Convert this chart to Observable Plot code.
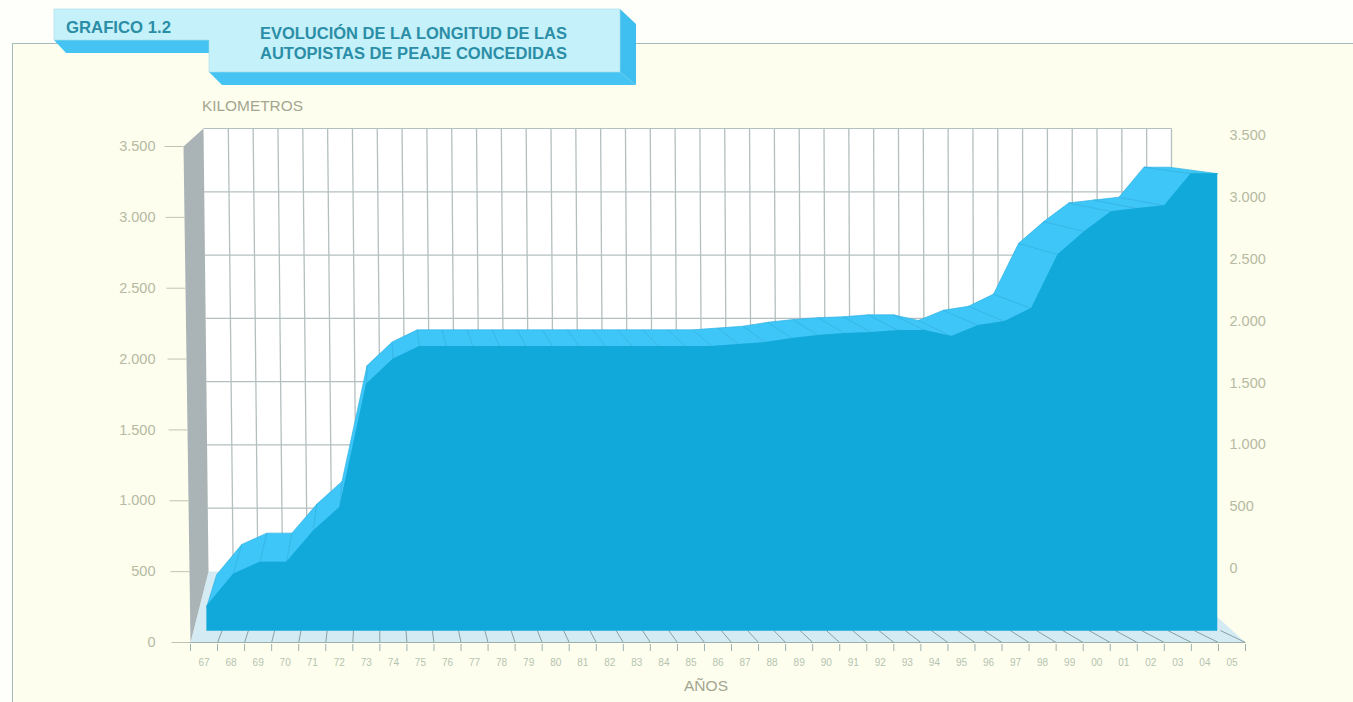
<!DOCTYPE html>
<html lang="es">
<head>
<meta charset="utf-8">
<script src="https://cdn.jsdelivr.net/npm/d3@7"></script>
<script src="https://cdn.jsdelivr.net/npm/@observablehq/plot@0.6"></script>
<style>
  html,body{margin:0;padding:0;background:#fefefa;}
  #page{position:relative;width:1353px;height:702px;overflow:hidden;font-family:"Liberation Sans",Arial,sans-serif;}
  #frame{position:absolute;left:12px;top:43px;right:-2px;bottom:-2px;background:#fefeee;border:1px solid #a3bcb9;}
  #chart{position:absolute;left:0;top:0;}
  #banner{position:absolute;left:0;top:0;}
</style>
</head>
<body>
<div id="page">
  <div id="frame"></div>
  <div id="chart"></div>
  <svg id="banner" width="1353" height="702">
    <polygon points="54,40 209,40 209,53 66,53" fill="#45c3f3"/>
    <polygon points="209,72 620,72 636,85 222,85" fill="#45c3f3"/>
    <polygon points="620,9 636,24 636,85 620,72" fill="#3fbef0"/>
    <polygon points="54,9 620,9 620,72 209,72 209,40 54,40" fill="#c5f1fb" stroke="#a6dcea" stroke-width="0.6"/>
    <g font-family="'Liberation Sans',Arial,sans-serif" font-weight="700" fill="#2b8ea6">
      <text x="66" y="33" font-size="16.5" textLength="105" lengthAdjust="spacingAndGlyphs">GRAFICO 1.2</text>
      <text x="260" y="39" font-size="16" textLength="307" lengthAdjust="spacingAndGlyphs">EVOLUCIÓN DE LA LONGITUD DE LAS</text>
      <text x="260" y="59" font-size="16" textLength="307" lengthAdjust="spacingAndGlyphs">AUTOPISTAS DE PEAJE CONCEDIDAS</text>
    </g>
    <g font-family="'Liberation Sans',Arial,sans-serif" font-size="14.5" fill="#a3a590">
      <text x="202" y="111" textLength="101" lengthAdjust="spacingAndGlyphs">KILOMETROS</text>
      <text x="684" y="691" textLength="44" lengthAdjust="spacingAndGlyphs">AÑOS</text>
    </g>
  </svg>
</div>
<script>
// --- data ---
const years = d3.range(1967, 2006);
const yearLabels = ["67","68","69","70","71","72","73","74","75","76","77","78","79","80","81","82","83","84","85","86","87","88","89","90","91","92","93","94","95","96","97","98","99","00","01","02","03","04","05"];
const km = [179,410,496,496,719,891,1776,1956,2049,2049,2049,2049,2049,2049,2049,2049,2049,2049,2049,2049,2063,2077,2107,2128,2142,2149,2164,2164,2121,2199,2229,2322,2710,2876,3019,3041,3062,3292,3292];
const kmTicks = [0,500,1000,1500,2000,2500,3000,3500];
const gridKm = [500,1000,1500,2000,2500,3000,3500];

// --- scales of the front edge of the floor ---
const xDomain = [1967, 2006], xRange = [190, 1245];
const yDomain = [0, 3500], yRange = [642, 146];
const xS = d3.scaleLinear(xDomain, xRange), yS = d3.scaleLinear(yDomain, yRange);
const fmt = d3.formatLocale({decimal:",",thousands:".",grouping:[3],currency:["","€"]}).format(",d");

// perspective: every depth step moves a point toward a vanishing point
const vp = {x: xS.invert(376), y: yS.invert(60)};
const toward = (p, cx, cy = cx) => ({x: p.x + cx*(vp.x-p.x), y: p.y + cy*(vp.y-p.y)});
const faceDepthX = 0.0166, faceDepthY = 0.0195, ribbonDepth = 0.058;
const face = (yr, v) => toward({x: yr + 0.5, y: v}, faceDepthX, faceDepthY);
const back = (yr, v) => toward(face(yr, v), ribbonDepth);
const px = (x, y) => ({x: xS.invert(x), y: yS.invert(y)});

// back-wall scale (drawn scale on the right-hand grid)
const wallY = d3.scaleLinear([0,3500],[571,128]);
const wallYRightLabels = d3.scaleLinear([0,3500],[568,135]);
const wallXTop = k => 203 + k*(1171-203)/39;
const wallXBot = k => 208 + k*(1171-208)/39;

// shapes built from the arrays
const frontFace = years.map((yr,i)=>{
  const f = face(yr, km[i]), b = face(yr, 0);
  return {x:f.x, y1:b.y, y2:f.y};
});
const ribbon = [];
for (let i=0;i<years.length-1;i++){
  const a=face(years[i],km[i]), b=face(years[i+1],km[i+1]), c=back(years[i+1],km[i+1]), d=back(years[i],km[i]);
  [a,b,c,d,a].forEach(p=>ribbon.push({...p,z:i}));
}
const wallPoly = [px(203,128),px(1171,128),px(1171,575),px(208,571),px(203,128)];
const sidePoly = [px(190,642),px(183,146),px(203,128),px(208,571),px(190,642)];
const floorPoly = [px(190,642),px(1245,642),px(1171,575),px(208,571),px(190,642)];
const tickYears = d3.range(1967, 2007);
const floorLines = tickYears.map(t=>{
  const b=toward({x:t,y:0},0.029);
  return {x1:t,y1:0,x2:b.x,y2:yS.invert(630)};
}).filter(d=>d.x1>1967);
const vLines = d3.range(1,40).map(k=>{
  const a=px(wallXTop(k),128), b=px(wallXBot(k),571);
  return {x1:a.x,y1:a.y,x2:b.x,y2:b.y};
});
const hLines = gridKm.map(v=>{
  const y=wallY(v), xl=203+5*(y-128)/(571-128);
  const a=px(xl,y), b=px(1171,y);
  return {x1:a.x,y1:a.y,x2:b.x,y2:b.y};
});
const leftTicks = kmTicks.map(v=>{
  const y=yS(v), xr=190-7*(642-y)/(642-146);
  const a=px(xr,y), b=px(xr-19,y);
  return {x1:a.x,y1:a.y,x2:b.x,y2:b.y};
});
const rightLabels = kmTicks.map(v=>({...px(1229,wallYRightLabels(v)),t:fmt(v)}));

const labelColor="#b5baa2", lineColor="#b4bfc0";
const chart = Plot.plot({
  width:1353, height:702,
  marginLeft:155, marginBottom:58, marginTop:0, marginRight:0,
  style:{background:"transparent",fontFamily:"'Liberation Sans',Arial,sans-serif"},
  x:{domain:xDomain, range:xRange, axis:null},
  y:{domain:yDomain, range:yRange, axis:null},
  marks:[
    Plot.line(wallPoly,{x:"x",y:"y",fill:"#ffffff",stroke:"none"}),
    Plot.line(floorPoly,{x:"x",y:"y",fill:"#d4ebf4",stroke:"none"}),
    Plot.line(sidePoly,{x:"x",y:"y",fill:"#aab3b5",stroke:"none"}),
    Plot.link(vLines,{x1:"x1",y1:"y1",x2:"x2",y2:"y2",stroke:lineColor,strokeWidth:1.3}),
    Plot.link(hLines,{x1:"x1",y1:"y1",x2:"x2",y2:"y2",stroke:lineColor,strokeWidth:1.2}),
    Plot.link(leftTicks,{x1:"x1",y1:"y1",x2:"x2",y2:"y2",stroke:"#bfc4b4",strokeWidth:1}),
    Plot.link(floorLines,{x1:"x1",y1:"y1",x2:"x2",y2:"y2",stroke:"#86a0a2",strokeWidth:1}),
    Plot.ruleY([0],{x1:xDomain[0],x2:xDomain[1],stroke:"#9db0ae",strokeWidth:1}),
    Plot.axisX({ticks:tickYears,tickSize:7,stroke:"#9db0ae",color:"#9db0ae",label:null,tickFormat:()=>""}),
    Plot.axisX({ticks:years.map(y=>y+0.5),tickSize:0,tickPadding:14,label:null,
      tickFormat:d=>yearLabels[Math.round(d-0.5)-1967],
      fontSize:10,fontFamily:"'Liberation Sans Narrow','Liberation Sans',sans-serif",color:"#b4c4b0"}),
    Plot.axisY({ticks:kmTicks,tickSize:0,tickPadding:0,label:null,tickFormat:fmt,fontSize:14.5,color:labelColor}),
    Plot.text(rightLabels,{x:"x",y:"y",text:"t",textAnchor:"start",fontSize:14.5,fill:labelColor}),
    Plot.line(ribbon,{x:"x",y:"y",z:"z",fill:"#3fc6f8",stroke:"#2eb2e2",strokeWidth:0.7}),
    Plot.areaY(frontFace,{x:"x",y1:"y1",y2:"y2",fill:"#10a9d9"})
  ]
});
document.getElementById("chart").appendChild(chart);
</script>
</body>
</html>
